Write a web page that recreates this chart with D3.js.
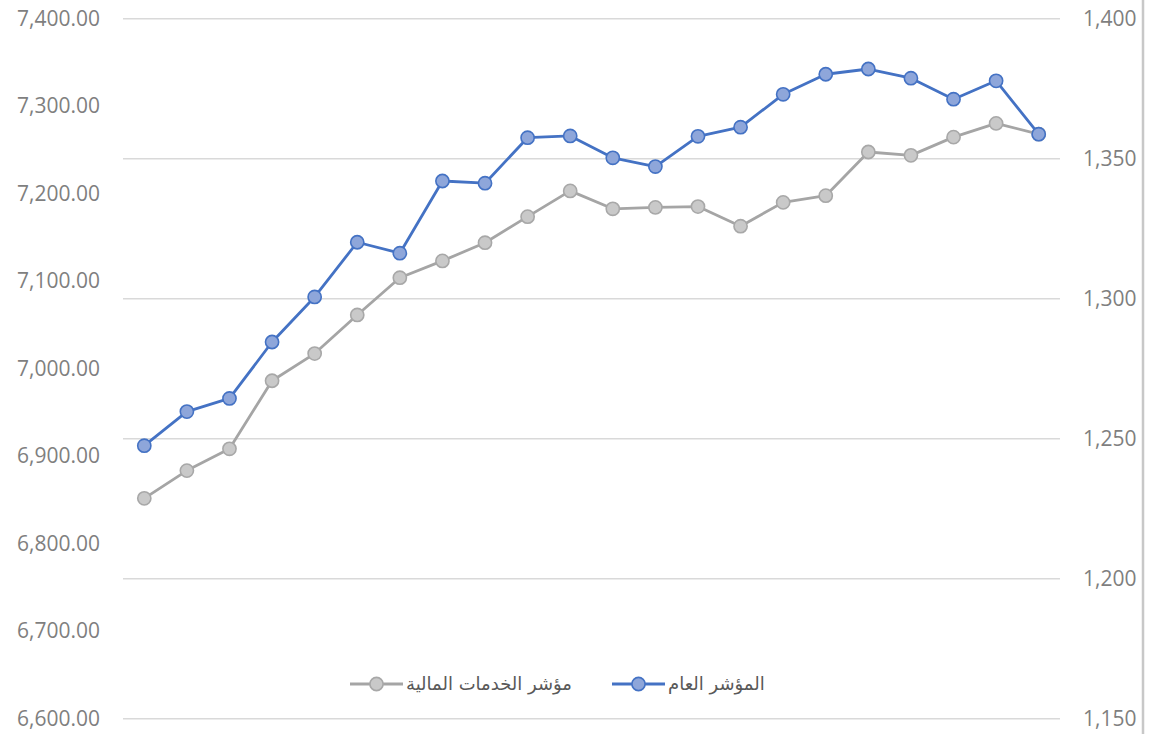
<!DOCTYPE html>
<html>
<head>
<meta charset="utf-8">
<script src="https://cdn.jsdelivr.net/npm/d3@7"></script>
<style>
  body { margin: 0; background: #fff; }
  svg { display: block; }
</style>
</head>
<body>
<div id="chart"></div>
<script>
// data
var days = ["1","2","3","4","5","6","7","8","9","10","11","12","13","14","15","16","17","18","19","20","21","22"];
var generalIndex = [6912, 6951, 6966, 7030.5, 7082, 7144.5, 7132, 7214.5, 7212, 7264, 7266, 7241,
                    7231, 7265.6, 7276, 7313.6, 7336.5, 7342.5, 7332, 7308, 7329, 7268];
var financialIndex = [1228.7, 1238.6, 1246.4, 1270.7, 1280.4, 1294.2, 1307.5, 1313.5, 1320, 1329.3, 1338.5, 1332.1,
                      1332.6, 1332.9, 1325.9, 1334.4, 1336.8, 1352.4, 1351.2, 1357.7, 1362.6, 1358.8];
var leftTicks = [6600, 6700, 6800, 6900, 7000, 7100, 7200, 7300, 7400];
var rightTicks = [1150, 1200, 1250, 1300, 1350, 1400];
var seriesNames = ["المؤشر العام", "مؤشر الخدمات المالية"];

var svgWidth = 1150;
var svgHeight = 734;

var margin = { top: 18.7, right: 90, bottom: 15.3, left: 123 };
var width = svgWidth - margin.left - margin.right;
var height = svgHeight - margin.top - margin.bottom;

var svg = d3.select("#chart")
  .append("svg")
  .attr("width", svgWidth)
  .attr("height", svgHeight);

// gray border at the right edge
svg.append("line")
  .attr("x1", 1143).attr("x2", 1143)
  .attr("y1", 0).attr("y2", svgHeight)
  .attr("stroke", "#c8c8c8")
  .attr("stroke-width", 2.5);

var chartGroup = svg.append("g")
  .attr("transform", `translate(${margin.left}, ${margin.top})`);

// scales
var xScale = d3.scalePoint()
  .domain(days)
  .range([0, width])
  .padding(0.5);

var yLeft = d3.scaleLinear()
  .domain([6600, 7400])
  .range([height, 0]);

var yRight = d3.scaleLinear()
  .domain([1150, 1400])
  .range([height, 0]);

// gridlines follow the right axis
chartGroup.append("g")
  .selectAll("line")
  .data(rightTicks)
  .enter()
  .append("line")
  .attr("x1", 0)
  .attr("x2", width)
  .attr("y1", d => yRight(d))
  .attr("y2", d => yRight(d))
  .attr("stroke", "#d9d9d9")
  .attr("stroke-width", 1.5);

// axes
var leftAxis = d3.axisLeft(yLeft)
  .tickValues(leftTicks)
  .tickFormat(d3.format(",.2f"))
  .tickSize(0)
  .tickPadding(23);

var rightAxis = d3.axisRight(yRight)
  .tickValues(rightTicks)
  .tickFormat(d3.format(","))
  .tickSize(0)
  .tickPadding(23);

var gLeft = chartGroup.append("g").call(leftAxis);
var gRight = chartGroup.append("g")
  .attr("transform", `translate(${width}, 0)`)
  .call(rightAxis);

[gLeft, gRight].forEach(function(g) {
  g.select(".domain").remove();
  g.selectAll("text")
    .attr("fill", "#7f7f7f")
    .attr("font-size", 21)
    .attr("font-family", "'Open Sans', sans-serif");
});

// lines
var series = [
  { name: seriesNames[1], values: financialIndex, y: yRight, stroke: "#a5a5a5", fill: "#c9c9c9", mstroke: "#a8a8a8" },
  { name: seriesNames[0], values: generalIndex, y: yLeft, stroke: "#4472c4", fill: "#8ea6da", mstroke: "#4472c4" }
];

series.forEach(function(s) {
  var line = d3.line()
    .x((d, i) => xScale(days[i]))
    .y(d => s.y(d));

  chartGroup.append("path")
    .datum(s.values)
    .attr("fill", "none")
    .attr("stroke", s.stroke)
    .attr("stroke-width", 2.8)
    .attr("stroke-linejoin", "round")
    .attr("d", line);

  chartGroup.selectAll(null)
    .data(s.values)
    .enter()
    .append("circle")
    .attr("cx", (d, i) => xScale(days[i]))
    .attr("cy", d => s.y(d))
    .attr("r", 6.6)
    .attr("fill", s.fill)
    .attr("stroke", s.mstroke)
    .attr("stroke-width", 1.6);
});

// legend
var legendItems = [
  { name: seriesNames[1], x: 350, stroke: "#a5a5a5", fill: "#c9c9c9", mstroke: "#a8a8a8" },
  { name: seriesNames[0], x: 612, stroke: "#4472c4", fill: "#8ea6da", mstroke: "#4472c4" }
];
var legendY = 684;

var legend = svg.append("g");
legendItems.forEach(function(d) {
  legend.append("line")
    .attr("x1", d.x).attr("x2", d.x + 53)
    .attr("y1", legendY).attr("y2", legendY)
    .attr("stroke", d.stroke)
    .attr("stroke-width", 2.8);
  legend.append("circle")
    .attr("cx", d.x + 26.5)
    .attr("cy", legendY)
    .attr("r", 6.6)
    .attr("fill", d.fill)
    .attr("stroke", d.mstroke)
    .attr("stroke-width", 1.6);
  legend.append("text")
    .attr("x", d.x + 56)
    .attr("y", legendY)
    .attr("dy", "0.35em")
    .attr("fill", "#595959")
    .attr("font-size", 18)
    .attr("font-family", "'DejaVu Sans', sans-serif")
    .text(d.name);
});
</script>
</body>
</html>
